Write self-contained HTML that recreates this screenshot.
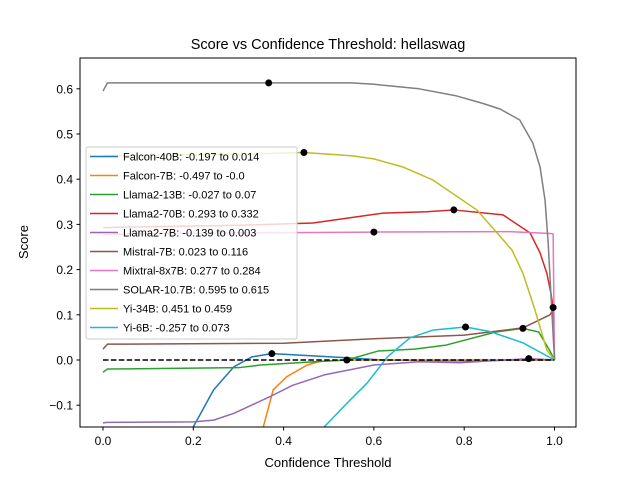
<!DOCTYPE html>
<html><head><meta charset="utf-8"><style>
body{margin:0;background:#fff;}
svg{font-family:"Liberation Sans","DejaVu Sans",sans-serif;}
</style></head><body>
<svg id="chart" width="640" height="480" viewBox="0 0 640 480" xmlns="http://www.w3.org/2000/svg">
<defs><clipPath id="clip"><rect x="80" y="58" width="496" height="369"/></clipPath></defs>
<rect width="640" height="480" fill="#fff"/>
<text x="328" y="49" text-anchor="middle" font-size="14.5">Score vs Confidence Threshold: hellaswag</text>
<g id="plot" clip-path="url(#clip)"></g>
<g id="axes"></g>
<rect x="80" y="58" width="496" height="369" fill="none" stroke="#000" stroke-width="1"/>
<text x="328" y="467" text-anchor="middle" font-size="13">Confidence Threshold</text>
<text transform="translate(28,242) rotate(-90)" text-anchor="middle" font-size="13">Score</text>
<g id="legend"></g>
</svg>
<script>
const seriesNames = ["Falcon-40B: -0.197 to 0.014","Falcon-7B: -0.497 to -0.0","Llama2-13B: -0.027 to 0.07","Llama2-70B: 0.293 to 0.332","Llama2-7B: -0.139 to 0.003","Mistral-7B: 0.023 to 0.116","Mixtral-8x7B: 0.277 to 0.284","SOLAR-10.7B: 0.595 to 0.615","Yi-34B: 0.451 to 0.459","Yi-6B: -0.257 to 0.073"];
const seriesColors = ["#1f77b4","#ff7f0e","#2ca02c","#d62728","#9467bd","#8c564b","#e377c2","#7f7f7f","#bcbd22","#17becf"];
const falcon40 = [[0.17,-0.25],[0.2,-0.148],[0.245,-0.066],[0.29,-0.015],[0.33,0.007],[0.374,0.014],[0.43,0.011],[0.54,0.005],[0.62,0],[0.8,-0.002],[0.95,0],[1,0]];
const falcon7 = [[0.34,-0.25],[0.355,-0.148],[0.377,-0.066],[0.407,-0.037],[0.452,-0.011],[0.48,-0.003],[0.54,0],[0.8,0],[1,0]];
const llama13 = [[0,-0.027],[0.01,-0.02],[0.3,-0.017],[0.35,-0.011],[0.45,-0.005],[0.54,0],[0.61,0.02],[0.69,0.024],[0.76,0.033],[0.87,0.062],[0.93,0.07],[0.965,0.062],[0.99,0.02],[1,0]];
const llama70 = [[0,0.293],[0.3,0.298],[0.465,0.303],[0.62,0.325],[0.717,0.328],[0.777,0.332],[0.886,0.321],[0.946,0.281],[0.968,0.237],[0.983,0.192],[0.992,0.148],[0.997,0.116],[1,0]];
const llama7 = [[0,-0.139],[0.01,-0.138],[0.2,-0.137],[0.245,-0.133],[0.29,-0.118],[0.37,-0.081],[0.42,-0.056],[0.49,-0.033],[0.6,-0.011],[0.7,-0.004],[0.79,-0.006],[0.943,0.003],[1,0]];
const mistral7 = [[0,0.024],[0.01,0.035],[0.4,0.037],[0.6,0.047],[0.8,0.055],[0.93,0.071],[0.99,0.1],[1,0.116]];
const mixtral = [[0,0.277],[0.1,0.28],[0.3,0.281],[0.6,0.283],[0.9,0.284],[0.99,0.28],[0.997,0.279],[1,0]];
const solar = [[0,0.595],[0.01,0.613],[0.367,0.613],[0.55,0.613],[0.6,0.61],[0.7,0.6],[0.78,0.585],[0.84,0.568],[0.88,0.555],[0.923,0.531],[0.952,0.48],[0.968,0.427],[0.979,0.354],[0.986,0.259],[0.994,0.11],[1,0]];
const yi34 = [[0,0.452],[0.3,0.455],[0.445,0.459],[0.55,0.452],[0.6,0.445],[0.664,0.427],[0.731,0.398],[0.828,0.332],[0.873,0.281],[0.906,0.243],[0.93,0.192],[0.957,0.11],[0.983,0.022],[1,0]];
const yi6 = [[0.47,-0.2],[0.49,-0.148],[0.54,-0.096],[0.585,-0.051],[0.63,0.007],[0.68,0.049],[0.73,0.066],[0.803,0.073],[0.857,0.063],[0.93,0.038],[1,0]];
const seriesData = [falcon40,falcon7,llama13,llama70,llama7,mistral7,mixtral,solar,yi34,yi6];
const markerX = [0.374,0.54,0.93,0.777,0.943,0.997,0.6,0.367,0.445,0.803];
const markerY = [0.014,0,0.07,0.332,0.003,0.116,0.283,0.613,0.459,0.073];
const xTicks = [0,0.2,0.4,0.6,0.8,1.0];
const xTickLabels = ["0.0","0.2","0.4","0.6","0.8","1.0"];
const yTicks = [-0.1,0,0.1,0.2,0.3,0.4,0.5,0.6];
const yTickLabels = ["\u22120.1","0.0","0.1","0.2","0.3","0.4","0.5","0.6"];

const NS="http://www.w3.org/2000/svg";
const xs = v => 103 + v*451.5;
const ys = v => 360 - v*452;
const plot=document.getElementById('plot'), axes=document.getElementById('axes'), legend=document.getElementById('legend');
function mk(tag, attrs, parent){const e=document.createElementNS(NS,tag);for(const k in attrs)e.setAttribute(k,attrs[k]);parent.appendChild(e);return e;}

xTicks.forEach((t,i)=>{
  const l=mk('line',{x1:xs(t),x2:xs(t),y1:427,y2:430.5,stroke:'#000'},axes);
  
  
  const tx=mk('text',{x:xs(t),y:445,'text-anchor':'middle','font-size':'12'},axes);
  tx.textContent=xTickLabels[i];
  
  
});
yTicks.forEach((t,i)=>{
  const l=mk('line',{x1:76.5,x2:80,y1:ys(t),y2:ys(t),stroke:'#000'},axes);
  
  
  const tx=mk('text',{x:73,y:ys(t)+4.5,'text-anchor':'end','font-size':'12'},axes);
  tx.textContent=yTickLabels[i];
  
  
});

seriesData.forEach((d,i)=>{
  const p=mk('polyline',{points:d.map(q=>xs(q[0])+','+ys(q[1])).join(' '),fill:'none',stroke:seriesColors[i],'stroke-width':1.5,'stroke-linejoin':'round'},plot);
  
  
});
const zl=mk('line',{x1:xs(0),x2:xs(1),y1:ys(0),y2:ys(0),stroke:'#000','stroke-width':1.5,'stroke-dasharray':'5.5,2.4'},plot);


markerX.forEach((mx,i)=>{
  const c=mk('circle',{cx:xs(mx),cy:ys(markerY[i]),r:3.5,fill:'#000'},plot);
  
  
});

const lb=mk('rect',{x:86,y:147,width:211,height:192,rx:2,fill:'#fff','fill-opacity':0.8,stroke:'#ccc'},legend);


seriesNames.forEach((n,i)=>{
  const y=156.5+i*19;
  const g=mk('g',{},legend);
  
  
  mk('line',{x1:90,x2:118,y1:y,y2:y,stroke:seriesColors[i],'stroke-width':1.5},g);
  const t=mk('text',{x:123,y:y+4,'font-size':'11'},g);
  t.textContent=n;
});
</script>
</body></html>
